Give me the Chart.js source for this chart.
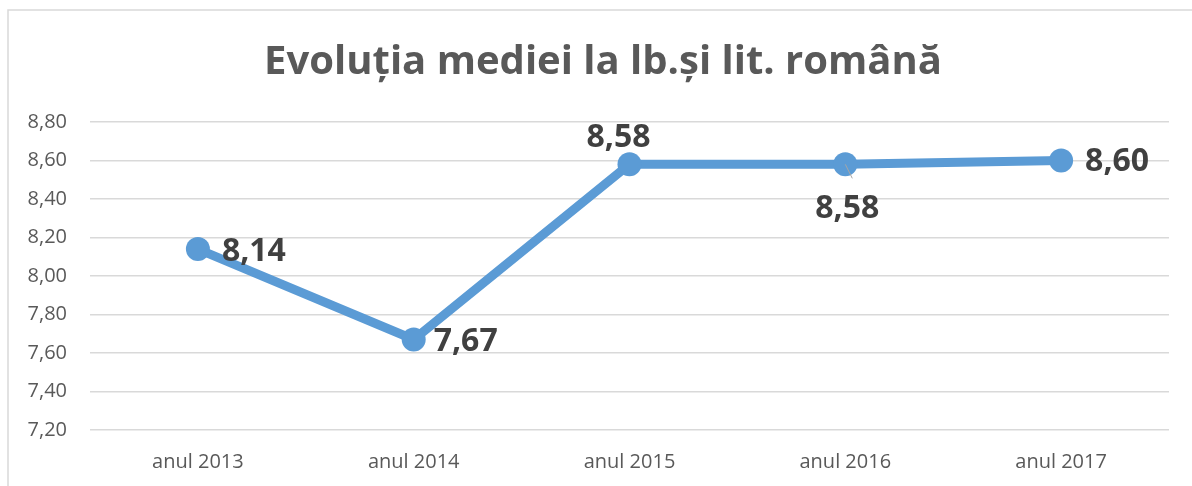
<!DOCTYPE html>
<html>
<head>
<meta charset="utf-8">
<script src="https://cdn.jsdelivr.net/npm/chart.js@4"></script>
<style>
  html, body { margin: 0; padding: 0; background: #fff; }
  canvas { display: block; }
</style>
</head>
<body>
<canvas id="chart" width="1192" height="486"></canvas>
<script>
const categories = ["anul 2013", "anul 2014", "anul 2015", "anul 2016", "anul 2017"];
const averages = [8.14, 7.67, 8.58, 8.58, 8.60];
const yMin = 7.2;
const yMax = 8.8;
const yStep = 0.2;
const chartTitle = "Evoluția mediei la lb.și lit. română";

// where each value label sits relative to its point: [dx, dy, align]
const labelPlacement = [
    [24, 3, "left"],
    [20, 2, "left"],
    [-11, -26, "center"],
    [2, 45, "center"],
    [24, 1, "left"]
];

const fmt = v => Number(v).toFixed(2).replace(".", ",");

// border of the chart box + title centred on the whole box (Excel style)
const frame = {
    id: "frame",
    beforeDraw(chart) {
        const ctx = chart.ctx;
        ctx.save();
        ctx.strokeStyle = "#d9d9d9";
        ctx.lineWidth = 1.5;
        ctx.beginPath();
        ctx.moveTo(8, chart.height);
        ctx.lineTo(8, 10);
        ctx.lineTo(chart.width, 10);
        ctx.stroke();

        ctx.font = "bold 40px 'Open Sans'";
        ctx.fillStyle = "#595959";
        ctx.textAlign = "center";
        ctx.textBaseline = "middle";
        ctx.fillText(chartTitle, 603, 63);
        ctx.restore();
    }
};

const valueLabels = {
    id: "valueLabels",
    afterDatasetsDraw(chart) {
        const ctx = chart.ctx;
        const meta = chart.getDatasetMeta(0);
        ctx.save();
        ctx.font = "bold 32px 'Open Sans'";
        ctx.fillStyle = "#404040";
        ctx.textBaseline = "middle";
        meta.data.forEach((pt, i) => {
            const [dx, dy, align] = labelPlacement[i];
            if (dy > 30) {
                ctx.strokeStyle = "#a6a6a6";
                ctx.lineWidth = 1;
                ctx.beginPath();
                ctx.moveTo(pt.x, pt.y);
                ctx.lineTo(pt.x + 7, pt.y + 14);
                ctx.stroke();
            }
            ctx.textAlign = align;
            ctx.fillText(fmt(averages[i]), pt.x + dx, pt.y + dy);
        });
        ctx.restore();
    }
};

new Chart(document.getElementById("chart"), {
    type: "line",
    data: {
        labels: categories,
        datasets: [{
            data: averages,
            borderColor: "#5b9bd5",
            backgroundColor: "#5b9bd5",
            borderWidth: 9,
            pointRadius: 12,
            pointBorderWidth: 0,
            pointBackgroundColor: "#5b9bd5",
            tension: 0
        }]
    },
    options: {
        responsive: false,
        animation: false,
        devicePixelRatio: 1,
        layout: { padding: { left: 0, right: 23, top: 122, bottom: 0 } },
        plugins: {
            legend: { display: false },
            tooltip: { enabled: false },
            title: { display: false }
        },
        scales: {
            x: {
                offset: true,
                afterFit: s => { s.height = 56; },
                grid: { display: false, drawTicks: false },
                border: { display: false },
                ticks: {
                    color: "#595959",
                    font: { family: "'Open Sans'", size: 20 },
                    padding: 20,
                    maxRotation: 0
                }
            },
            y: {
                min: yMin,
                max: yMax,
                afterFit: s => { s.width = 90; },
                grid: { color: "#d9d9d9", lineWidth: 1.5, drawTicks: false },
                border: { display: false },
                ticks: {
                    stepSize: yStep,
                    color: "#595959",
                    font: { family: "'Open Sans'", size: 20 },
                    padding: 23,
                    callback: v => fmt(v)
                }
            }
        }
    },
    plugins: [frame, valueLabels]
});
</script>
</body>
</html>
